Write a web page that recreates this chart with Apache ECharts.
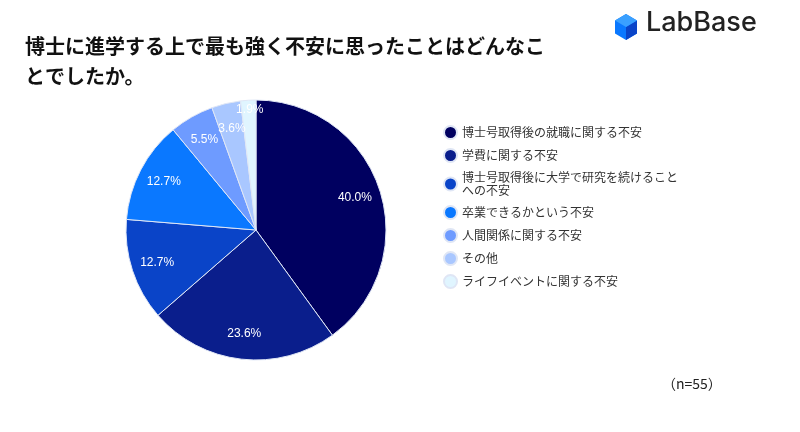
<!DOCTYPE html>
<html><head><meta charset="utf-8">
<script src="https://cdn.jsdelivr.net/npm/echarts@6/dist/echarts.min.js"></script>
<style>html,body{margin:0;background:#fff}#c{width:800px;height:432px}</style>
</head><body><div id="c"></div>
<script>
const categories = ['博士号取得後の就職に関する不安','学費に関する不安','博士号取得後に大学で研究を続けること\nへの不安','卒業できるかという不安','人間関係に関する不安','その他','ライフイベントに関する不安'];
const values = [40.0, 23.6, 12.7, 12.7, 5.5, 3.6, 1.9];
const colors = ['#000060','#0a1e8c','#0a44c8','#0a78ff','#6e9bff','#a9c7ff','#e0f5ff'];
const F = '"Noto Sans CJK JP", "Noto Sans", sans-serif';
const chart = echarts.init(document.getElementById('c'));
const data = categories.map((c,i)=>({name:c, value:values[i]}));
chart.setOption({
  animation:false,
  color: colors,
  title:{text:'博士に進学する上で最も強く不安に思ったことはどんなこ\nとでしたか。', left:20, top:26,
    textStyle:{fontFamily:F,fontSize:20,fontWeight:'bold',color:'#111',lineHeight:30}},
  legend:{data:categories, orient:'vertical', left:438, top:120, itemWidth:13, itemHeight:13, icon:'circle', itemGap:8,
    textStyle:{fontFamily:F,fontSize:12,color:'#333',lineHeight:13}},
  graphic:[
    {type:'polygon', shape:{points:[[626,14],[637,20.5],[637,33.5],[626,40],[615,33.5],[615,20.5]]}, style:{fill:'#0a78ff'}},
    {type:'polygon', shape:{points:[[626,27],[637,20.5],[637,33.5],[626,40]]}, style:{fill:'#0a44c8'}},
    {type:'polygon', shape:{points:[[626,14],[637,20.5],[626,27],[615,20.5]]}, style:{fill:'#3aa0ff'}},
    {type:'text', left:646, top:9, style:{text:'LabBase', fontFamily:'Inter, sans-serif', fontSize:27, fontWeight:500, fill:'#222'}},
    {type:'text', left:662, top:377, style:{text:'（n=55）', fontFamily:F, fontSize:14, fill:'#222'}}
  ],
  series:[{type:'pie', center:[256,230], radius:130, startAngle:90, clockwise:true,
    itemStyle:{borderColor:'#dfe6f5', borderWidth:1},
    label:{show:false}, labelLine:{show:false}, data:data
  },{type:'pie', center:[256,230], radius:[72,130], startAngle:90, clockwise:true, silent:true,
    itemStyle:{color:'rgba(0,0,0,0)'}, legendHoverLink:false, minShowLabelAngle:0,
    labelLayout:{hideOverlap:false},
    label:{position:'inside', formatter:p=>p.value.toFixed(1)+'%', color:'#fff', fontSize:12, fontFamily:'Arial, sans-serif'},
    labelLine:{show:false}, data:data.map((d,i)=>({name:d.name+' ', value:d.value,
      label: i===6 ? {show:true, offset:[0,-16]} : undefined}))
  }]
});
</script></body></html>
